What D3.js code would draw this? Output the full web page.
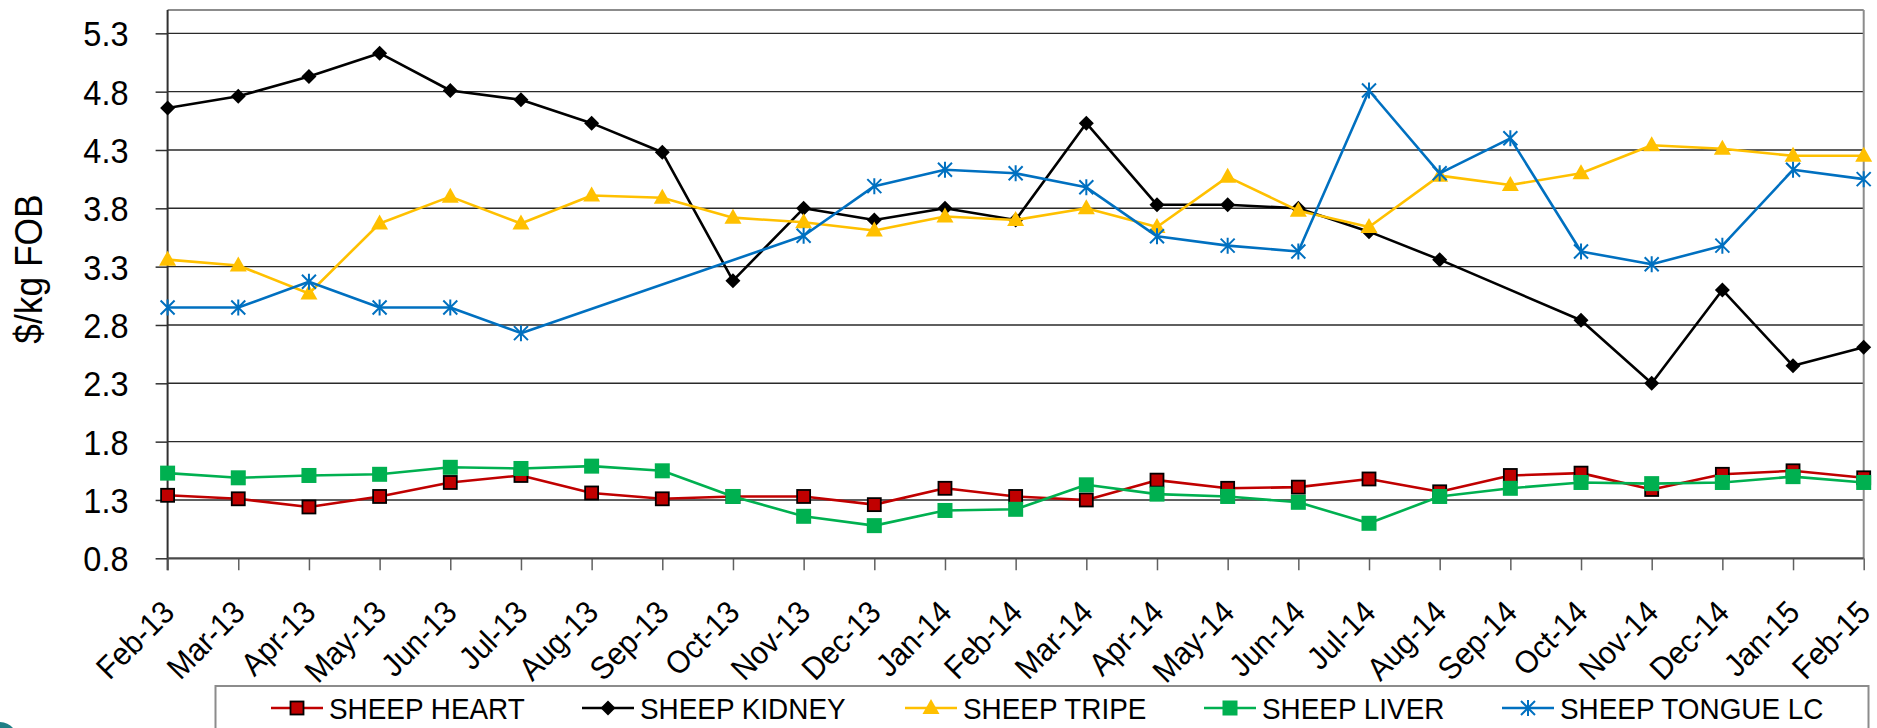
<!DOCTYPE html>
<html>
<head>
<meta charset="utf-8">
<script src="https://cdn.jsdelivr.net/npm/d3@7"></script>
<style>
  html, body { margin: 0; padding: 0; background: #fff; }
  svg { display: block; font-family: "Liberation Sans", Arial, sans-serif; }
</style>
</head>
<body>
<svg id="chart" width="1877" height="728"></svg>
<script>
const months = ["Feb-13","Mar-13","Apr-13","May-13","Jun-13","Jul-13","Aug-13","Sep-13","Oct-13","Nov-13","Dec-13","Jan-14","Feb-14","Mar-14","Apr-14","May-14","Jun-14","Jul-14","Aug-14","Sep-14","Oct-14","Nov-14","Dec-14","Jan-15","Feb-15"];
const yTicks = [0.8, 1.3, 1.8, 2.3, 2.8, 3.3, 3.8, 4.3, 4.8, 5.3];
const yTitle = "$/kg FOB";

const seriesNames = ["SHEEP HEART", "SHEEP KIDNEY", "SHEEP TRIPE", "SHEEP LIVER", "SHEEP TONGUE LC"];
const heart  = [1.34,1.31,1.24,1.33,1.45,1.51,1.36,1.31,1.33,1.33,1.26,1.40,1.33,1.30,1.47,1.40,1.41,1.48,1.37,1.51,1.53,1.39,1.52,1.55,1.49];
const kidney = [4.66,4.76,4.93,5.13,4.81,4.73,4.53,4.28,3.18,3.80,3.70,3.80,3.70,4.53,3.83,3.83,3.80,3.60,3.36,null,2.84,2.30,3.10,2.45,2.61];
const tripe  = [3.36,3.31,3.07,3.67,3.90,3.67,3.91,3.89,3.72,3.68,3.61,3.73,3.70,3.80,3.64,4.07,3.78,3.64,4.08,4.00,4.10,4.34,4.31,4.25,4.25];
const liver  = [1.53,1.49,1.51,1.52,1.58,1.57,1.59,1.55,1.33,1.16,1.08,1.21,1.22,1.43,1.35,1.33,1.28,1.10,1.33,1.40,1.45,1.44,1.45,1.50,1.45];
const tongue = [2.95,2.95,3.17,2.95,2.95,2.73,null,null,null,3.565,3.99,4.13,4.10,3.98,3.56,3.48,3.43,4.81,4.10,4.40,3.43,3.32,3.48,4.13,4.05];

const colors = ["#C00000", "#000000", "#FFC000", "#00B050", "#0070C0"];
const markers = ["squareOutlined", "diamond", "triangle", "square", "asterisk"];
const seriesData = [heart, kidney, tripe, liver, tongue];

const svg = d3.select("#chart");
const pLeft = 167.6, pRight = 1863.7, pTop = 10, pBottom = 558.3;
const narrow = 0.93;

const x = d3.scalePoint().domain(months).range([pLeft, pRight]);
const y = d3.scaleLinear().domain([0.8, 5.5]).range([pBottom, pTop]);

// decorative teal swoosh at bottom-left
svg.append("path").attr("d", "M0,722 Q8,722.5 13,728 L0,728 Z").attr("fill", "#1F7F86");

// gridlines
svg.append("g").selectAll("line").data(yTicks.slice(1)).join("line")
  .attr("x1", pLeft).attr("x2", pRight)
  .attr("y1", d => y(d)).attr("y2", d => y(d))
  .attr("stroke", "#2a2a2a").attr("stroke-width", 1.4);

// frame top & right
svg.append("line").attr("x1", pLeft).attr("x2", pRight).attr("y1", pTop).attr("y2", pTop)
  .attr("stroke", "#8c8c8c").attr("stroke-width", 2);
svg.append("line").attr("x1", pRight).attr("x2", pRight).attr("y1", pTop).attr("y2", pBottom)
  .attr("stroke", "#8c8c8c").attr("stroke-width", 2);

// y axis
const yAxis = d3.axisLeft(y).tickValues(yTicks).tickSize(12).tickFormat(d3.format(".1f"));
const gy = svg.append("g").attr("transform", `translate(${pLeft},0)`).call(yAxis);
gy.select(".domain").remove();
gy.append("line").attr("x1", 0).attr("x2", 0).attr("y1", pTop).attr("y2", pBottom + 12)
  .attr("stroke", "#303030").attr("stroke-width", 2);
gy.selectAll(".tick line").attr("stroke", "#303030").attr("stroke-width", 1.5);
gy.selectAll(".tick text").attr("font-size", 35).attr("fill", "#000")
  .attr("font-family", "'Liberation Sans', Arial, sans-serif")
  .attr("x", null).attr("dy", null).attr("y", 0)
  .attr("text-anchor", "end")
  .attr("transform", `translate(-39,12.5) scale(${narrow},1)`);

// x axis
const xAxis = d3.axisBottom(x).tickSize(12).tickFormat(d => d);
const gx = svg.append("g").attr("transform", `translate(0,${pBottom})`).call(xAxis);
gx.select(".domain").remove();
gx.append("line").attr("x1", pLeft).attr("x2", pRight).attr("y1", 0).attr("y2", 0)
  .attr("stroke", "#4a4a4a").attr("stroke-width", 2.2);
gx.selectAll(".tick line").attr("stroke", "#606060").attr("stroke-width", 1.5);
gx.selectAll(".tick text")
  .attr("font-size", 32).attr("fill", "#000")
  .attr("font-family", "'Liberation Sans', Arial, sans-serif")
  .attr("text-anchor", "end")
  .attr("y", 0).attr("dy", 0)
  .attr("transform", `translate(8,56) rotate(-45) scale(${narrow},1)`);

// y title
svg.append("text").attr("transform", `translate(42,269) rotate(-90) scale(${narrow},1)`)
  .attr("text-anchor", "middle").attr("font-size", 38).attr("fill", "#000")
  .text(yTitle);

// marker drawing
function drawMarker(g, type, color, cx, cy) {
  if (type === "squareOutlined") {
    g.append("rect").attr("x", cx - 6.5).attr("y", cy - 6.5).attr("width", 13).attr("height", 13)
      .attr("fill", color).attr("stroke", "#000").attr("stroke-width", 1.8);
  } else if (type === "square") {
    g.append("rect").attr("x", cx - 7.5).attr("y", cy - 7.5).attr("width", 15).attr("height", 15)
      .attr("fill", color);
  } else if (type === "diamond") {
    const r = 7.5;
    g.append("path").attr("d", `M${cx},${cy - r}L${cx + r},${cy}L${cx},${cy + r}L${cx - r},${cy}Z`)
      .attr("fill", color);
  } else if (type === "triangle") {
    g.append("path").attr("d", `M${cx},${cy - 9}L${cx + 8.5},${cy + 6}L${cx - 8.5},${cy + 6}Z`)
      .attr("fill", color);
  } else if (type === "asterisk") {
    const r = 7;
    g.append("path").attr("d",
      `M${cx - r},${cy - r}L${cx + r},${cy + r}M${cx - r},${cy + r}L${cx + r},${cy - r}M${cx},${cy - r - 1}L${cx},${cy + r + 1}`)
      .attr("stroke", color).attr("stroke-width", 2).attr("fill", "none");
  }
}

// series
seriesData.forEach((vals, si) => {
  const pts = vals.map((v, i) => ({ m: months[i], v })).filter(d => d.v !== null);
  const line = d3.line().x(d => x(d.m)).y(d => y(d.v));
  const g = svg.append("g");
  g.append("path").datum(pts).attr("d", line)
    .attr("fill", "none").attr("stroke", colors[si]).attr("stroke-width", 2.6)
    .attr("stroke-linejoin", "round");
  pts.forEach(d => drawMarker(g, markers[si], colors[si], x(d.m), y(d.v)));
});

// legend
const lg = svg.append("g");
lg.append("rect").attr("x", 215.5).attr("y", 686).attr("width", 1653).attr("height", 60)
  .attr("fill", "none").attr("stroke", "#8c8c8c").attr("stroke-width", 2);
const legendX = [271, 582, 905, 1204, 1502];
seriesNames.forEach((name, i) => {
  const lx = legendX[i], ly = 708;
  lg.append("line").attr("x1", lx).attr("x2", lx + 52).attr("y1", ly).attr("y2", ly)
    .attr("stroke", colors[i]).attr("stroke-width", 2.6);
  drawMarker(lg, markers[i], colors[i], lx + 26, ly);
  lg.append("text").attr("transform", `translate(${lx + 58},718.5) scale(${narrow},1)`)
    .attr("font-size", 30).attr("fill", "#000").text(name);
});
</script>
</body>
</html>
